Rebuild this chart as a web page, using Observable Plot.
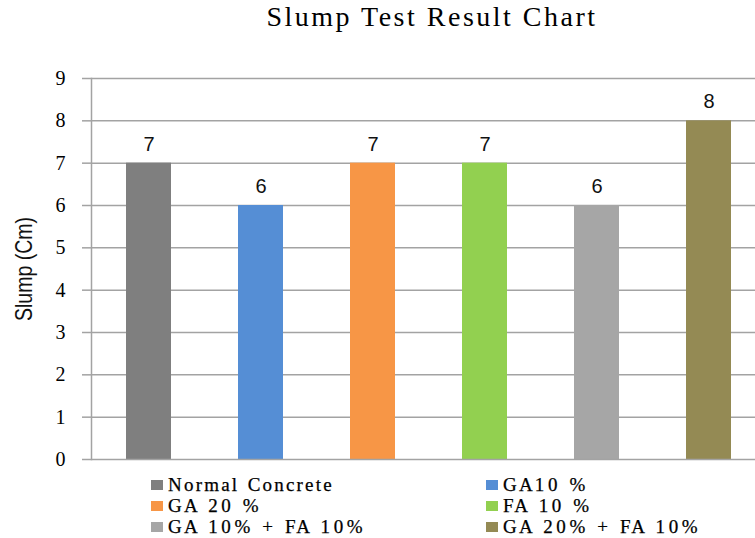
<!DOCTYPE html>
<html>
<head>
<meta charset="utf-8">
<script src="https://cdn.jsdelivr.net/npm/d3@7"></script>
<script src="https://cdn.jsdelivr.net/npm/@observablehq/plot@0.6"></script>
<style>
  html, body { margin: 0; padding: 0; background: #fff; overflow: hidden; width: 755px; height: 538px; }
  #title { position: relative; height: 50px; width: 755px; overflow: hidden; }
  #title span { position: absolute; left: 432px; top: 1px; transform: translateX(-50%); font-family: "Liberation Serif", serif; font-size: 28px; letter-spacing: 2.5px; color: #000; white-space: nowrap; }
  #chart { position: relative; height: 420px; width: 755px; overflow: hidden; }
  #chart svg { display: block; max-width: none !important; }
  #legend { position: relative; height: 68px; width: 755px; font-family: "Liberation Serif", serif; font-size: 19px; letter-spacing: 2.2px; color: #000; -webkit-text-stroke: 0.25px #000; }
  .item { position: absolute; display: flex; align-items: center; white-space: pre; line-height: 20px; }
  .sw { width: 12px; height: 10px; margin-right: 5px; }
  .wide { letter-spacing: 3.6px; }
</style>
</head>
<body>
<div id="title"><span>Slump Test Result Chart</span></div>
<div id="chart"></div>
<div id="legend"></div>
<script>
const categories = ["Normal Concrete", "GA10 %", "GA 20 %", "FA 10 %", "GA 10% + FA 10%", "GA 20% + FA 10%"];
const slump = [7, 6, 7, 7, 6, 8];
const colors = ["#7f7f7f", "#558ed5", "#f79646", "#92d050", "#a6a6a6", "#948a54"];
const yTicks = [0, 1, 2, 3, 4, 5, 6, 7, 8, 9];
const yLabel = "Slump (Cm)";

const data = categories.map((c, i) => ({category: c, value: slump[i]}));

const chart = Plot.plot({
  width: 766,
  height: 420,
  marginLeft: 91,
  marginRight: 0,
  marginTop: 28,
  marginBottom: 11,
  style: {background: "transparent", maxWidth: "none"},
  x: {domain: categories, paddingInner: 0.6, paddingOuter: 0.3, axis: null},
  y: {domain: [0, 9], ticks: yTicks, label: null},
  color: {domain: categories, range: colors},
  marks: [
    Plot.ruleY(yTicks.slice(1), {stroke: "#a3a3a3", strokeWidth: 1.5, strokeOpacity: 1}),
    Plot.barY(data, {x: "category", y: "value", fill: "category"}),
    Plot.axisY({ticks: yTicks, tickSize: 9, tickPadding: 17, stroke: "#a3a3a3", strokeWidth: 1.5, strokeOpacity: 1,
      fontFamily: "Liberation Serif", fontSize: 20, fill: "#000", label: null}),
    Plot.axisY({ticks: [], tickSize: 0, label: yLabel, labelAnchor: "center", labelArrow: "none", labelOffset: 76,
      fontFamily: "Liberation Sans", fontSize: 23, fill: "#111"}),
    Plot.frame({anchor: "left", stroke: "#a3a3a3", strokeWidth: 1.5}),
    Plot.ruleY([0], {stroke: "#a3a3a3", strokeWidth: 1.5}),
    Plot.text(data, {x: "category", y: "value", text: d => String(d.value), dy: -19,
      fontFamily: "Liberation Sans", fontSize: 20, fill: "#111"})
  ]
});
// condense the axis label along its length (narrow face, as in the reference)
chart.querySelectorAll("text").forEach(t => {
  if (t.textContent === yLabel) {
    const tr = t.getAttribute("transform") || "";
    t.setAttribute("transform", tr + " scale(0.85,1)");
  }
});
document.getElementById("chart").appendChild(chart);

// legend
const legend = document.getElementById("legend");
const colX = [151, 486];
categories.forEach((c, i) => {
  const it = document.createElement("div");
  it.className = "item";
  it.style.left = colX[i % 2] + "px";
  it.style.top = (5 + Math.floor(i / 2) * 21) + "px";
  const sw = document.createElement("span");
  sw.className = "sw";
  sw.style.background = colors[i];
  it.appendChild(sw);
  const t = document.createElement("span");
  // digits, % , + and spaces are set a little wider, as in the reference
  for (const ch of c) {
    const s = document.createElement("span");
    s.textContent = ch;
    if (/[0-9%+ ]/.test(ch)) s.className = "wide";
    t.appendChild(s);
  }
  it.appendChild(t);
  legend.appendChild(it);
});
</script>
</body>
</html>
